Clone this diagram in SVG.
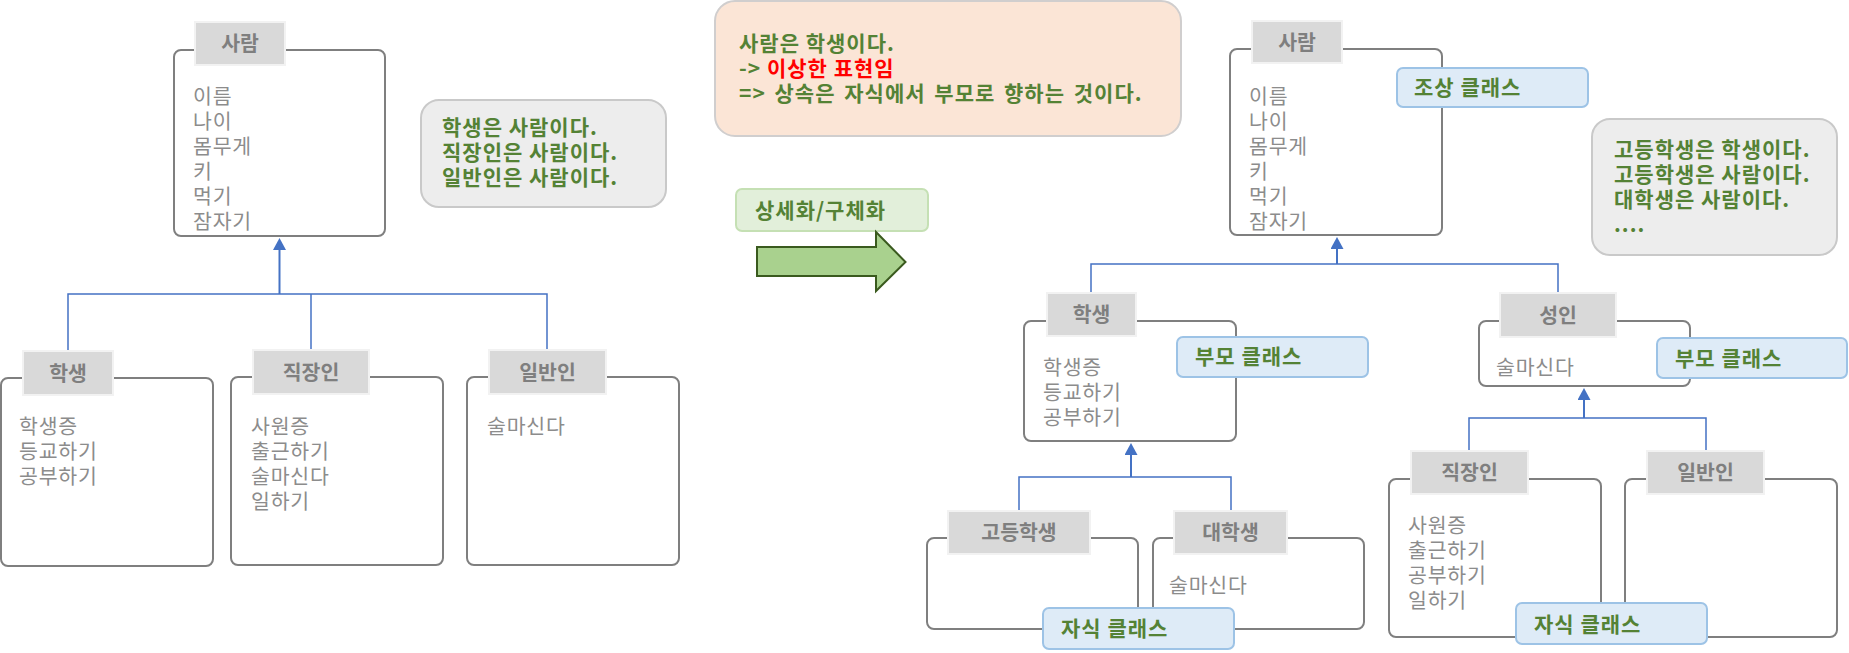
<svg xmlns="http://www.w3.org/2000/svg" width="1849" height="653" viewBox="0 0 1849 653">
<style>
text{font-family:"Noto Sans CJK KR","Noto Sans",sans-serif;}
.box{fill:#fff;stroke:#7f7f7f;stroke-width:2;}
.hdr{fill:#d9d9d9;stroke:#f2f2f2;stroke-width:2;}
.ht{font-size:20.5px;font-weight:bold;fill:#7f7f7f;text-anchor:middle;}
.it{font-size:20.5px;fill:#8c8c8c;letter-spacing:0.8px;}
.note{fill:#ededed;stroke:#c9c9c9;stroke-width:2;}
.gt{font-size:21px;font-weight:bold;fill:#548235;letter-spacing:1px;}
.call{fill:#deebf7;stroke:#9dc3e6;stroke-width:2;}
.conn{fill:none;stroke:#4472c4;stroke-width:1.5;}
.trunk{fill:none;stroke:#4472c4;stroke-width:2;}
</style>
<defs>
<marker id="tri" markerUnits="userSpaceOnUse" markerWidth="13" markerHeight="13" viewBox="0 0 12 13" refX="1" refY="6.5" orient="auto">
<path d="M0,0 L12,6.5 L0,13 z" fill="#4472c4"/>
</marker>
</defs>

<g id="connectors">
<path class="trunk" d="M279.5 294 V249" marker-end="url(#tri)"/>
<path class="conn" d="M68 350 V294 H547 V349"/>
<path class="conn" d="M311 349 V294"/>
<path class="trunk" d="M1337 264 V248" marker-end="url(#tri)"/>
<path class="conn" d="M1091 292 V264 H1558 V292"/>
<path class="trunk" d="M1131 477 V454" marker-end="url(#tri)"/>
<path class="conn" d="M1019 510 V477 H1231 V510"/>
<path class="trunk" d="M1584 418 V399" marker-end="url(#tri)"/>
<path class="conn" d="M1469 450 V418 H1706 V450"/>
</g>

<g id="person-left">
<rect class="box" x="174" y="50" width="211" height="186" rx="7"/>
<rect class="hdr" x="195" y="22" width="90" height="43"/>
<text class="ht" x="240" y="51">사람</text>
<text class="it" x="193" y="104">이름</text>
<text class="it" x="193" y="129">나이</text>
<text class="it" x="193" y="154">몸무게</text>
<text class="it" x="193" y="179">키</text>
<text class="it" x="193" y="204">먹기</text>
<text class="it" x="193" y="229">잠자기</text>
</g>

<g id="note-left">
<rect class="note" x="421" y="100" width="245" height="107" rx="18"/>
<text class="gt" x="442" y="135">학생은 사람이다.</text>
<text class="gt" x="442" y="160">직장인은 사람이다.</text>
<text class="gt" x="442" y="185">일반인은 사람이다.</text>
</g>

<g id="student-left">
<rect class="box" x="1" y="378" width="212" height="188" rx="7"/>
<rect class="hdr" x="23" y="351" width="90" height="44"/>
<text class="ht" x="68" y="380.5">학생</text>
<text class="it" x="19" y="433.5">학생증</text>
<text class="it" x="19" y="458.5">등교하기</text>
<text class="it" x="19" y="483.5">공부하기</text>
</g>

<g id="worker-left">
<rect class="box" x="231" y="377" width="212" height="188" rx="7"/>
<rect class="hdr" x="253" y="350" width="116" height="44"/>
<text class="ht" x="311" y="379.5">직장인</text>
<text class="it" x="251" y="433.5">사원증</text>
<text class="it" x="251" y="458.5">출근하기</text>
<text class="it" x="251" y="483.5">술마신다</text>
<text class="it" x="251" y="508.5">일하기</text>
</g>

<g id="general-left">
<rect class="box" x="467" y="377" width="212" height="188" rx="7"/>
<rect class="hdr" x="489" y="350" width="117" height="44"/>
<text class="ht" x="547.5" y="379.5">일반인</text>
<text class="it" x="487" y="433.5">술마신다</text>
</g>

<g id="note-pink">
<rect x="715" y="1" width="466" height="135" rx="20" fill="#fbe5d6" stroke="#d0cece" stroke-width="2"/>
<text class="gt" x="739" y="51">사람은 학생이다.</text>
<text class="gt" x="739" y="76">-&gt; <tspan fill="#ff0000">이상한 표현임</tspan></text>
<text class="gt" x="739" y="101" word-spacing="3">=&gt; 상속은 자식에서 부모로 향하는 것이다.</text>
</g>

<g id="label-specialize">
<rect x="736" y="189" width="192" height="42" rx="6" fill="#e2efda" stroke="#c5e0b4" stroke-width="2"/>
<text class="gt" x="755" y="218">상세화/구체화</text>
</g>

<g id="big-arrow">
<polygon points="757,247 876,247 876,232 905.5,262 876,291 876,276 757,276" fill="#a9d18e" stroke="#3a5a1e" stroke-width="2"/>
</g>

<g id="person-right">
<rect class="box" x="1230" y="49" width="212" height="186" rx="7"/>
<rect class="hdr" x="1252" y="21" width="90" height="42"/>
<text class="ht" x="1297" y="49.5">사람</text>
<text class="it" x="1249" y="103.5">이름</text>
<text class="it" x="1249" y="128.5">나이</text>
<text class="it" x="1249" y="153.5">몸무게</text>
<text class="it" x="1249" y="178.5">키</text>
<text class="it" x="1249" y="203.5">먹기</text>
<text class="it" x="1249" y="228.5">잠자기</text>
</g>

<g id="note-right">
<rect class="note" x="1592" y="119" width="245" height="136" rx="18"/>
<text class="gt" x="1614" y="157">고등학생은 학생이다.</text>
<text class="gt" x="1614" y="182">고등학생은 사람이다.</text>
<text class="gt" x="1614" y="207">대학생은 사람이다.</text>
<text class="gt" x="1614" y="232">....</text>
</g>

<g id="student-right">
<rect class="box" x="1024" y="321" width="212" height="120" rx="7"/>
<rect class="hdr" x="1047" y="293" width="89" height="43"/>
<text class="ht" x="1091.5" y="322">학생</text>
<text class="it" x="1043" y="374.5">학생증</text>
<text class="it" x="1043" y="399.5">등교하기</text>
<text class="it" x="1043" y="424.5">공부하기</text>
</g>

<g id="adult-right">
<rect class="box" x="1479" y="321" width="211" height="65" rx="7"/>
<rect class="hdr" x="1500" y="293" width="116" height="44"/>
<text class="ht" x="1558" y="322.5">성인</text>
<text class="it" x="1496" y="374.5">술마신다</text>
</g>

<g id="highschool-right">
<rect class="box" x="927" y="538" width="211" height="91" rx="7"/>
<rect class="hdr" x="948" y="511" width="142" height="43"/>
<text class="ht" x="1019" y="540">고등학생</text>
</g>

<g id="college-right">
<rect class="box" x="1153" y="538" width="211" height="91" rx="7"/>
<rect class="hdr" x="1174" y="511" width="113" height="43"/>
<text class="ht" x="1230.5" y="540">대학생</text>
<text class="it" x="1169" y="592.5">술마신다</text>
</g>

<g id="worker-right">
<rect class="box" x="1389" y="479" width="212" height="158" rx="7"/>
<rect class="hdr" x="1411" y="451" width="117" height="43"/>
<text class="ht" x="1469.5" y="480">직장인</text>
<text class="it" x="1408" y="532.5">사원증</text>
<text class="it" x="1408" y="557.5">출근하기</text>
<text class="it" x="1408" y="582.5">공부하기</text>
<text class="it" x="1408" y="607.5">일하기</text>
</g>

<g id="general-right">
<rect class="box" x="1625" y="479" width="212" height="158" rx="7"/>
<rect class="hdr" x="1647" y="451" width="117" height="43"/>
<text class="ht" x="1705.5" y="480">일반인</text>
</g>

<g id="callout-ancestor">
<rect class="call" x="1397" y="68" width="191" height="39" rx="6"/>
<text class="gt" x="1414" y="95">조상 클래스</text>
</g>

<g id="callout-parent-1">
<rect class="call" x="1177" y="337" width="191" height="40" rx="6"/>
<text class="gt" x="1195" y="364">부모 클래스</text>
</g>

<g id="callout-parent-2">
<rect class="call" x="1657" y="338" width="190" height="40" rx="6"/>
<text class="gt" x="1675" y="366">부모 클래스</text>
</g>

<g id="callout-child-1">
<rect class="call" x="1043" y="608" width="191" height="41" rx="6"/>
<text class="gt" x="1061" y="636">자식 클래스</text>
</g>

<g id="callout-child-2">
<rect class="call" x="1516" y="603" width="191" height="41" rx="6"/>
<text class="gt" x="1534" y="632">자식 클래스</text>
</g>
</svg>
